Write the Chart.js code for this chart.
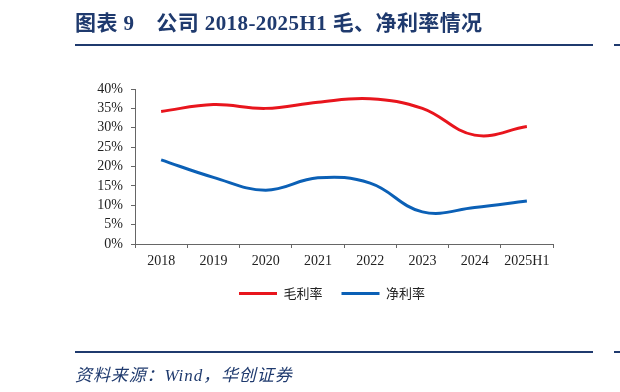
<!DOCTYPE html>
<html><head><meta charset="utf-8">
<script src="https://cdn.jsdelivr.net/npm/chart.js@4/dist/chart.umd.min.js"></script>
<style>
html,body{margin:0;padding:0;background:#fff;}
#wrap{position:relative;width:620px;height:392px;overflow:hidden;}
#c{position:absolute;left:0;top:0;}
.title{position:absolute;left:75px;top:6px;font-family:"Liberation Serif","Noto Sans CJK SC",serif;font-weight:bold;font-size:21px;letter-spacing:0.4px;color:#1f3a6e;white-space:pre;}
.rule{position:absolute;left:75px;width:518px;height:2px;background:#1f3a6e;}
.frag{position:absolute;left:614px;width:6px;height:2px;background:#1f3a6e;}
.src{position:absolute;left:75px;top:361px;font-family:"Liberation Serif","Noto Sans CJK SC",serif;font-style:italic;font-size:17px;letter-spacing:0.9px;color:#1f3a6e;white-space:pre;}
</style></head>
<body><div id="wrap">
<canvas id="c" width="620" height="392"></canvas>
<div class="title">图表 9<span style="margin-left:22px">公司 2018-2025H1 毛、净利率情况</span></div>
<div class="rule" style="top:44px"></div>
<div class="frag" style="top:44px"></div>
<div class="rule" style="top:351px"></div>
<div class="frag" style="top:351px"></div>
<div class="src">资料来源：Wind，华创证券</div>
</div>
<script>
const categories = ["2018","2019","2020","2021","2022","2023","2024","2025H1"];
const grossMargin = [34.2, 36.0, 35.0, 36.6, 37.5, 35.0, 28.1, 30.3];
const netMargin = [21.7, 17.2, 13.9, 17.1, 15.7, 8.3, 9.4, 11.1];
const seriesNames = ["毛利率", "净利率"];
const yTicks = [0,5,10,15,20,25,30,35,40];

const serif = "'Liberation Serif','Times New Roman',serif";
const legendShift = {
  id: 'legendShift',
  afterLayout(chart) { if (chart.legend) { chart.legend.left += 18; chart.legend.right += 18; } }
};
new Chart(document.getElementById('c'), {
  type: 'line',
  data: {
    labels: categories,
    datasets: [
      {label: seriesNames[0], data: grossMargin, borderColor: '#e8151d', backgroundColor: '#e8151d', borderWidth: 3, pointRadius: 0, tension: 0.4, fill: false},
      {label: seriesNames[1], data: netMargin, borderColor: '#0b60b6', backgroundColor: '#0b60b6', borderWidth: 3, pointRadius: 0, tension: 0.4, fill: false}
    ]
  },
  plugins: [legendShift],
  options: {
    responsive: false,
    animation: false,
    layout: {padding: {left: 75, right: 67, top: 89, bottom: 82}},
    plugins: {
      tooltip: {enabled: false},
      legend: {
        position: 'bottom',
        labels: {
          boxWidth: 38, boxHeight: 3, padding: 19,
          color: '#222',
          font: {family: "'Noto Sans CJK SC', sans-serif", size: 13},
          generateLabels(chart) {
            return Chart.defaults.plugins.legend.labels.generateLabels(chart).map(l => Object.assign(l, {lineWidth: 0}));
          }
        }
      }
    },
    scales: {
      x: {
        offset: true,
        grid: {offset: true, drawOnChartArea: false, drawTicks: true, tickLength: 4, color: '#666'},
        border: {color: '#666', width: 1},
        ticks: {color: '#222', font: {family: serif, size: 14}, padding: 5, maxRotation: 0, autoSkip: false},
        afterFit(s) { s.height = 24; }
      },
      y: {
        min: 0, max: 40,
        afterBuildTicks(s) { s.ticks = yTicks.map(v => ({value: v})); },
        grid: {drawOnChartArea: false, drawTicks: true, tickLength: 4, color: '#666'},
        border: {color: '#666', width: 1},
        ticks: {color: '#222', font: {family: serif, size: 14}, padding: 8, autoSkip: false, callback: v => v + '%'},
        afterFit(s) { s.width = 60; }
      }
    }
  }
});
</script>
</body></html>
